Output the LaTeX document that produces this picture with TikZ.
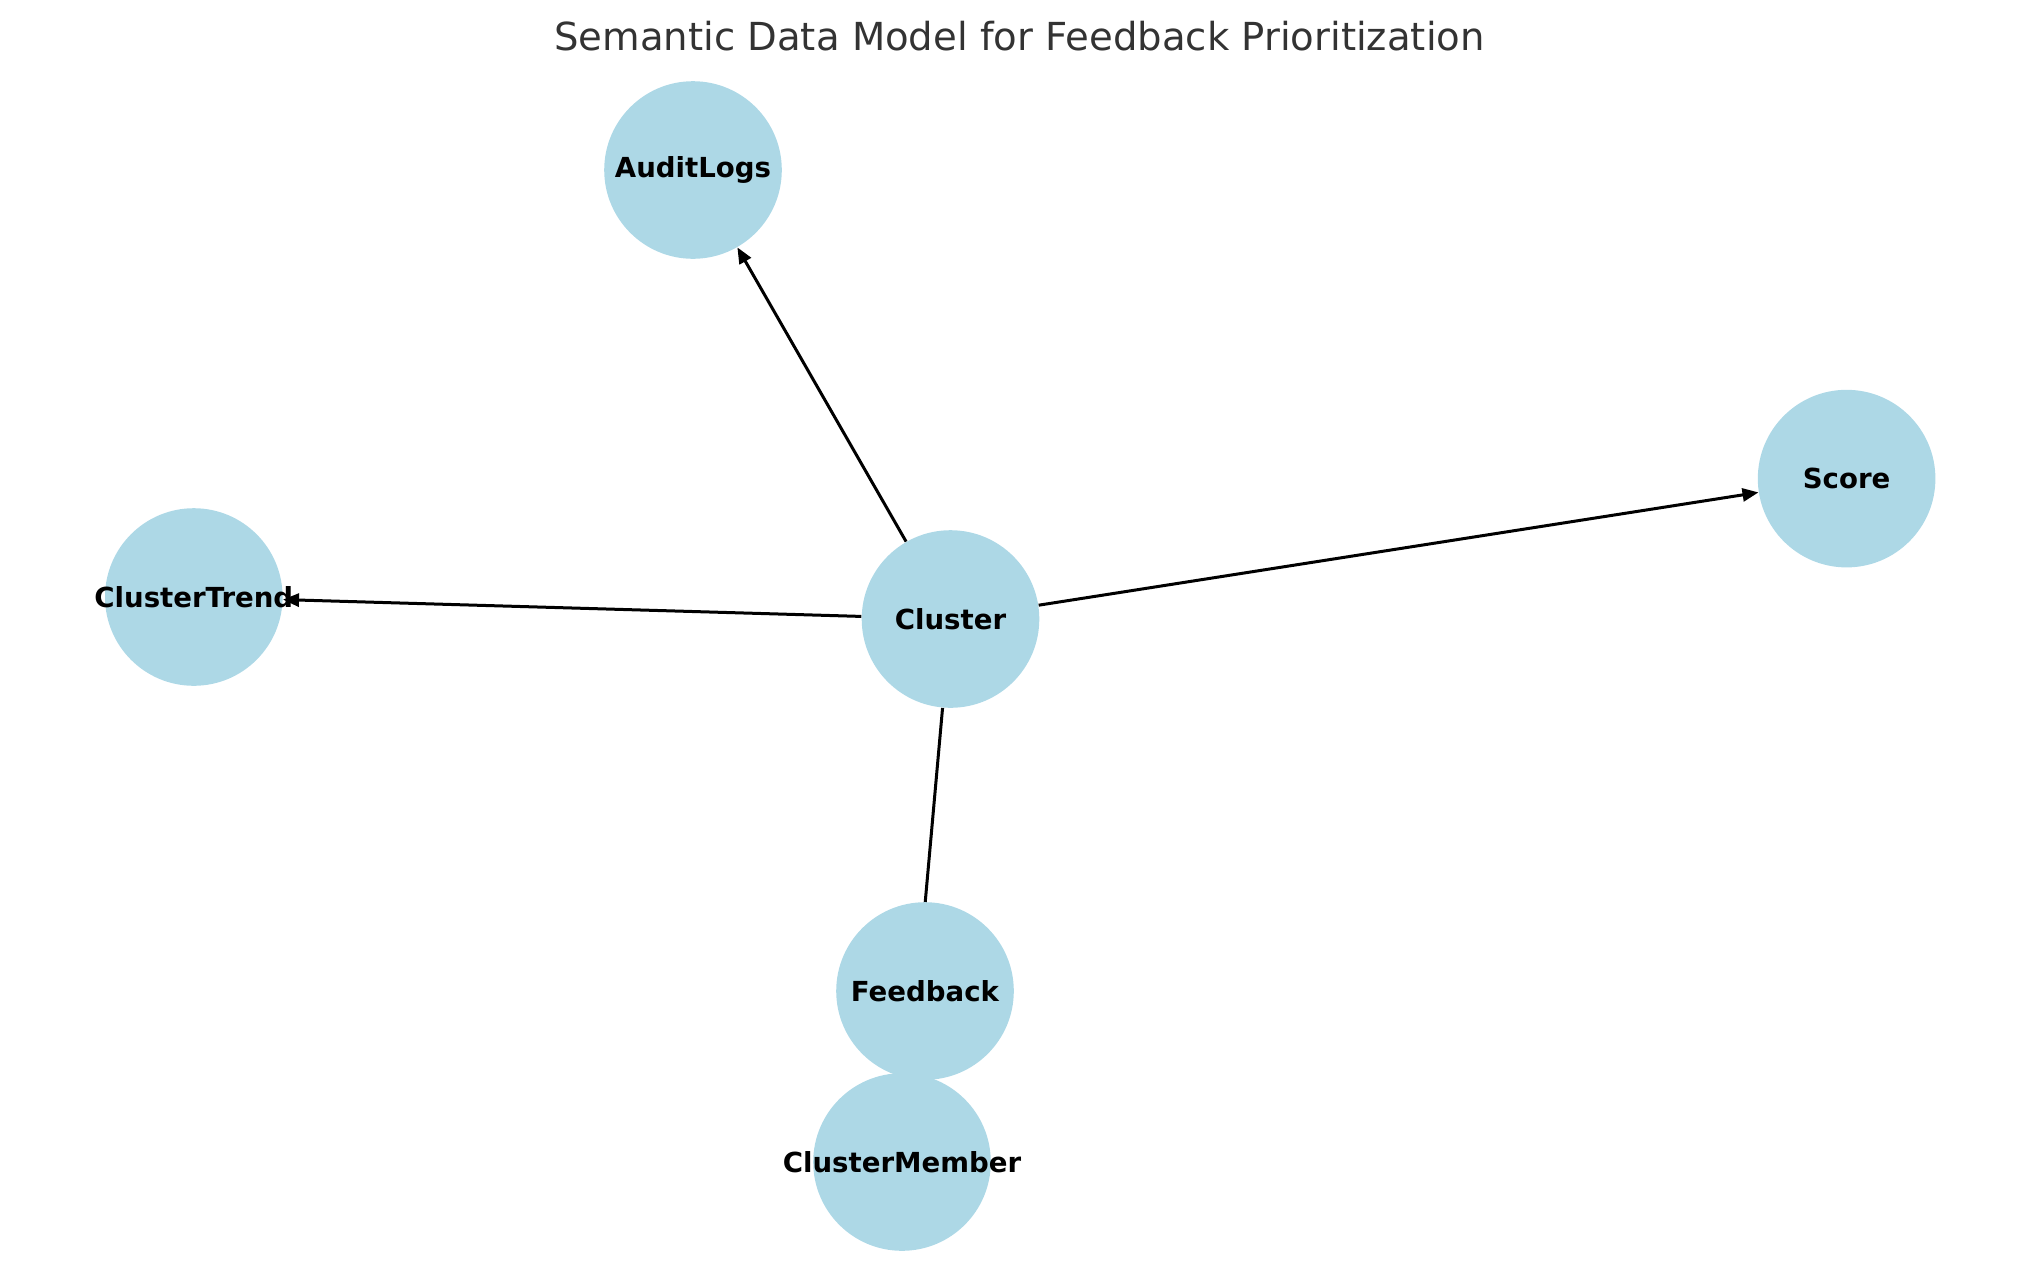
\documentclass[tikz,border=0pt]{standalone}
\usepackage{fontspec}
\setmainfont{DejaVu Sans}
\usetikzlibrary{arrows.meta,backgrounds}
\definecolor{nodeblue}{HTML}{ADD8E6}
\definecolor{titlegray}{HTML}{333333}

\begin{document}
\begin{tikzpicture}[
      x=0.5pt,y=-0.5pt,
      entity/.style={circle,fill=nodeblue,inner sep=0pt,minimum size=88.8pt,
                     label={[font=\fontsize{13.8}{16}\selectfont\bfseries]center:#1}},
      rel/.style={line width=1.5pt},
      arr/.style={rel,-{Triangle[length=8pt,width=6.5pt]}}]
    \useasboundingbox (0,0) rectangle (2039,1286);
    \node[font=\fontsize{19.3}{23}\selectfont,text=titlegray] (title) at (1019.5,36) {Semantic Data Model for Feedback Prioritization};
    \node[entity=AuditLogs] (audit) at (693,170) {};
    \node[entity=Score] (score) at (1846.6,478.6) {};
    \node[entity=ClusterTrend] (trend) at (193.8,597) {};
    \node[entity=Cluster] (cluster) at (950.5,619) {};
    \node[entity=ClusterMember] (member) at (902,1162) {};
    \node[entity=Feedback] (feedback) at (925,991) {};
    % edges go under the circles
    \begin{scope}[on background layer]
      \draw[arr] (cluster)--(audit);
      \draw[arr] (cluster)--(trend);
      \draw[arr] (cluster)--(score);
      \draw[arr] (cluster)--(member);
    \end{scope}
  \end{tikzpicture}
\end{document}
